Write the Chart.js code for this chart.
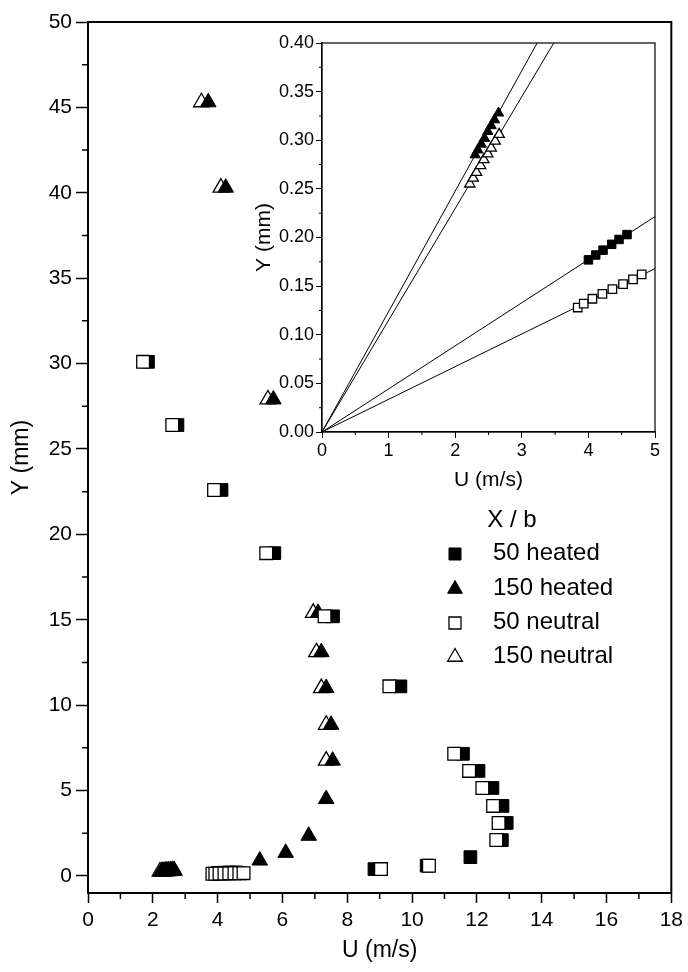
<!DOCTYPE html>
<html>
<head>
<meta charset="utf-8">
<script src="https://cdn.jsdelivr.net/npm/chart.js@4/dist/chart.umd.min.js"></script>
<style>
  body { margin: 0; background: #fff; }
  #wrap { position: relative; width: 688px; height: 972px; }
  #main { position: absolute; left: 0; top: 0; }
  #inset { position: absolute; left: 230px; top: 22px; }
</style>
</head>
<body>
<div id="wrap">
  <canvas id="main" width="688" height="972"></canvas>
  <canvas id="inset" width="440" height="480"></canvas>
</div>
<script>
/* PERFIL COMPLETO: U (m/s), Y (mm) */
const u50Heated = [1.85, 2.76, 4.12, 5.75, 7.56, 9.64, 11.57, 12.05, 12.48, 12.79, 12.92, 12.77, 11.8, 10.45, 8.84];
const y50Heated = [30.1, 26.4, 22.6, 18.9, 15.2, 11.1, 7.15, 6.15, 5.15, 4.1, 3.1, 2.1, 1.1, 0.6, 0.4];
const u50Neutral = [1.7, 2.6, 3.89, 5.5, 7.3, 9.3, 11.3, 11.76, 12.17, 12.5, 12.67, 12.6, 10.52, 9.04];
const y50Neutral = [30.1, 26.4, 22.6, 18.9, 15.2, 11.1, 7.15, 6.15, 5.15, 4.1, 3.1, 2.1, 0.6, 0.4];
const u150Heated = [3.71, 4.25, 5.72, 7.1, 7.2, 7.35, 7.5, 7.55, 7.35, 6.81, 6.1, 5.3];
const y150Heated = [45.3, 40.3, 27.9, 15.4, 13.1, 11.0, 8.85, 6.75, 4.5, 2.35, 1.35, 0.9];
const u150Neutral = [3.5, 4.1, 5.55, 6.95, 7.05, 7.2, 7.35, 7.35];
const y150Neutral = [45.3, 40.3, 27.9, 15.4, 13.1, 11.0, 8.85, 6.75];

/* ZONA DE PARED (inset) */
const uWall50Heated = [4.0, 4.11, 4.22, 4.35, 4.46, 4.58];
const yWall50Heated = [0.177, 0.182, 0.187, 0.193, 0.198, 0.203];
const uWall50Neutral = [3.84, 3.93, 4.06, 4.21, 4.36, 4.52, 4.67, 4.8];
const yWall50Neutral = [0.128, 0.132, 0.137, 0.142, 0.147, 0.152, 0.157, 0.162];
const uWall150Heated = [2.3, 2.34, 2.39, 2.44, 2.49, 2.54, 2.59, 2.65];
const yWall150Heated = [0.285, 0.29, 0.296, 0.302, 0.309, 0.315, 0.321, 0.328];
const uWall150Neutral = [2.22, 2.27, 2.32, 2.38, 2.43, 2.49, 2.54, 2.6, 2.66];
const yWall150Neutral = [0.255, 0.261, 0.267, 0.274, 0.28, 0.286, 0.292, 0.299, 0.306];

/* RECTAS DE AJUSTE (inset) */
const fitU50Heated = [0, 5];
const fitY50Heated = [0, 0.2215];
const fitU50Neutral = [0, 5];
const fitY50Neutral = [0, 0.168];
const fitU150Heated = [0, 3.23];
const fitY150Heated = [0, 0.4];
const fitU150Neutral = [0, 3.48];
const fitY150Neutral = [0, 0.4];

/* EJES */
const xTicks = [0, 2, 4, 6, 8, 10, 12, 14, 16, 18];
const xMinor = [1, 3, 5, 7, 9, 11, 13, 15, 17];
const yTicks = [0, 5, 10, 15, 20, 25, 30, 35, 40, 45, 50];
const yMinor = [2.5, 7.5, 12.5, 17.5, 22.5, 27.5, 32.5, 37.5, 42.5, 47.5];
const xTicksIn = [0, 1, 2, 3, 4, 5];
const xMinorIn = [0.5, 1.5, 2.5, 3.5, 4.5];
const yTicksIn = [0, 0.05, 0.1, 0.15, 0.2, 0.25, 0.3, 0.35, 0.4];
const yMinorIn = [0.025, 0.075, 0.125, 0.175, 0.225, 0.275, 0.325, 0.375];

const legendTitle = "X / b";
const legendLabels = ["50 heated", "150 heated", "50 neutral", "150 neutral"];

const FUENTE = '"Liberation Sans", Arial, sans-serif';
Chart.defaults.font.family = FUENTE;
Chart.defaults.color = "#000";

const pts = (us, ys) => us.map((u, i) => ({ x: u, y: ys[i] }));

function serie(label, data, estilo, relleno, r, orden) {
  return {
    label: label,
    data: data,
    order: orden,
    showLine: false,
    pointStyle: estilo,
    pointRadius: r,
    pointHoverRadius: r,
    pointBackgroundColor: relleno ? "#000" : "#fff",
    pointBorderColor: "#000",
    pointBorderWidth: relleno ? 1 : 1.3,
  };
}

function recta(us, ys) {
  return {
    data: pts(us, ys),
    showLine: true,
    pointRadius: 0,
    borderColor: "#000",
    borderWidth: 1,
    order: 10,
  };
}

/* marco + ticks menores */
const marco = {
  id: "marco",
  afterDraw(chart, args, opts) {
    const { ctx, chartArea: a, scales } = chart;
    ctx.save();
    ctx.strokeStyle = "#000";
    ctx.lineWidth = opts.width;
    ctx.strokeRect(a.left, a.top, a.right - a.left, a.bottom - a.top);
    ctx.lineWidth = opts.tickWidth;
    ctx.beginPath();
    opts.minorX.forEach((v) => {
      const px = scales.x.getPixelForValue(v);
      ctx.moveTo(px, a.bottom);
      ctx.lineTo(px, a.bottom + opts.len);
    });
    opts.minorY.forEach((v) => {
      const py = scales.y.getPixelForValue(v);
      ctx.moveTo(a.left, py);
      ctx.lineTo(a.left - opts.len, py);
    });
    ctx.stroke();
    ctx.restore();
  },
};

/* leyenda dentro del area */
const leyenda = {
  id: "leyenda",
  afterDraw(chart) {
    const ctx = chart.ctx;
    const sets = [0, 1, 2, 3].map((i) => chart.data.datasets[i]);
    ctx.save();
    ctx.fillStyle = "#000";
    ctx.font = "24px " + FUENTE;
    ctx.textBaseline = "middle";
    ctx.textAlign = "center";
    ctx.fillText(legendTitle, 512, 520);
    ctx.textAlign = "left";
    const filas = [553, 588, 622, 656];
    legendLabels.forEach((txt, i) => {
      const d = sets[i];
      ctx.fillStyle = d.pointBackgroundColor;
      ctx.strokeStyle = "#000";
      ctx.lineWidth = d.pointBorderWidth;
      Chart.helpers.drawPoint(ctx, { pointStyle: d.pointStyle, radius: 8.5, rotation: 0, borderWidth: d.pointBorderWidth }, 455, filas[i] + 1);
      ctx.fillStyle = "#000";
      ctx.fillText(txt, 493, filas[i]);
    });
    ctx.restore();
  },
};

/* GRAFICO PRINCIPAL */
new Chart(document.getElementById("main"), {
  type: "scatter",
  data: {
    datasets: [
      serie("50 heated", pts(u50Heated.concat(uWall50Heated), y50Heated.concat(yWall50Heated)), "rect", true, 9, 2),
      serie("150 heated", pts(u150Heated.concat(uWall150Heated), y150Heated.concat(yWall150Heated)), "triangle", true, 9, 1),
      serie("50 neutral", pts(u50Neutral.concat(uWall50Neutral), y50Neutral.concat(yWall50Neutral)), "rect", false, 9, 0),
      serie("150 neutral", pts(u150Neutral.concat(uWall150Neutral), y150Neutral.concat(yWall150Neutral)), "triangle", false, 9, 3),
    ],
  },
  plugins: [marco, leyenda],
  options: {
    responsive: false,
    animation: false,
    devicePixelRatio: 1,
    events: [],
    layout: { padding: { top: 22, right: 13, left: 0, bottom: 0 } },
    plugins: {
      legend: { display: false },
      tooltip: { enabled: false },
      marco: { width: 2, tickWidth: 1.5, len: 6, minorX: xMinor, minorY: yMinor },
    },
    scales: {
      x: {
        type: "linear",
        min: 0,
        max: 18,
        afterBuildTicks: (s) => { s.ticks = xTicks.map((v) => ({ value: v })); },
        afterFit: (s) => { s.height = 79; },
        ticks: { font: { size: 21 }, color: "#000", padding: 5, maxRotation: 0 },
        grid: { drawOnChartArea: false, tickLength: 10, tickColor: "#000", tickWidth: 1.5 },
        border: { color: "#000", width: 2 },
        title: { display: true, text: "U (m/s)", font: { size: 23 }, color: "#000", padding: { top: 0, bottom: 8 } },
      },
      y: {
        type: "linear",
        min: -1,
        max: 50,
        afterBuildTicks: (s) => { s.ticks = yTicks.map((v) => ({ value: v })); },
        afterFit: (s) => { s.width = 88; },
        ticks: { font: { size: 21 }, color: "#000", padding: 4 },
        grid: { drawOnChartArea: false, tickLength: 12, tickColor: "#000", tickWidth: 1.5 },
        border: { color: "#000", width: 2 },
        title: { display: true, text: "Y (mm)", font: { size: 23 }, color: "#000", padding: { top: 8, bottom: 0 } },
      },
    },
  },
});

/* INSET: ZONA DE PARED */
new Chart(document.getElementById("inset"), {
  type: "scatter",
  data: {
    datasets: [
      serie("50 neutral", pts(uWall50Neutral, yWall50Neutral), "rect", false, 6, 0),
      serie("150 heated", pts(uWall150Heated, yWall150Heated), "triangle", true, 6, 1),
      serie("50 heated", pts(uWall50Heated, yWall50Heated), "rect", true, 6, 2),
      serie("150 neutral", pts(uWall150Neutral, yWall150Neutral), "triangle", false, 6, 3),
      recta(fitU50Heated, fitY50Heated),
      recta(fitU50Neutral, fitY50Neutral),
      recta(fitU150Heated, fitY150Heated),
      recta(fitU150Neutral, fitY150Neutral),
    ],
  },
  plugins: [marco],
  options: {
    responsive: false,
    animation: false,
    devicePixelRatio: 1,
    events: [],
    layout: { padding: { top: 21, right: 15, left: 0, bottom: 0 } },
    plugins: {
      legend: { display: false },
      tooltip: { enabled: false },
      marco: { width: 1.2, tickWidth: 1, len: 3, minorX: xMinorIn, minorY: yMinorIn },
    },
    scales: {
      x: {
        type: "linear",
        min: 0,
        max: 5,
        afterBuildTicks: (s) => { s.ticks = xTicksIn.map((v) => ({ value: v })); },
        afterFit: (s) => { s.height = 70; },
        ticks: { font: { size: 18 }, color: "#000", padding: 2, maxRotation: 0 },
        grid: { drawOnChartArea: false, tickLength: 6, tickColor: "#000", tickWidth: 1 },
        border: { color: "#000", width: 1.2 },
        title: { display: true, text: "U (m/s)", font: { size: 21 }, color: "#000", padding: { top: 0, bottom: 9 } },
      },
      y: {
        type: "linear",
        min: 0,
        max: 0.4,
        afterBuildTicks: (s) => { s.ticks = yTicksIn.map((v) => ({ value: v })); },
        afterFit: (s) => { s.width = 92; },
        ticks: { font: { size: 18 }, color: "#000", padding: 2, callback: (v) => v.toFixed(2) },
        grid: { drawOnChartArea: false, tickLength: 6, tickColor: "#000", tickWidth: 1 },
        border: { color: "#000", width: 1.2 },
        title: { display: true, text: "Y (mm)", font: { size: 21 }, color: "#000", padding: { top: 22, bottom: 0 } },
      },
    },
  },
});
</script>
</body>
</html>
